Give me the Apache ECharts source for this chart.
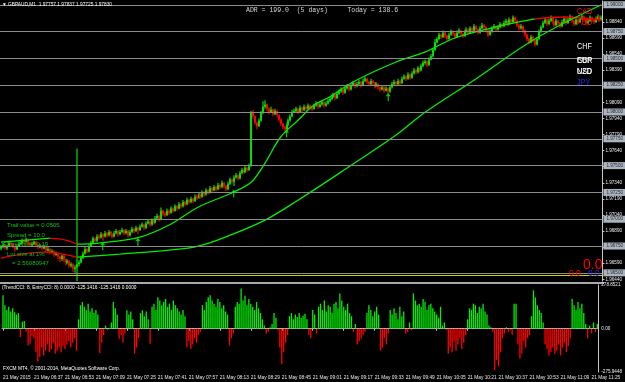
<!DOCTYPE html>
<html>
<head>
<meta charset="utf-8">
<script src="https://cdn.jsdelivr.net/npm/echarts@6/dist/echarts.min.js"></script>
<style>
html, body { margin: 0; padding: 0; background: #000; }
#chart { width: 625px; height: 382px; }
</style>
</head>
<body>
<div id="chart"></div>
<script>
// GBPAUD M1, prices kept as pips above BASE_PRICE
let BASE_PRICE = 1.96;
let firstOpen = 73;

let closes = [
  74,76,73,75,78,77,74,72,75,77, 78,80,79,81,78,76,77,79,76,74,
  75,73,74,71,72,69,70,67,68,65, 63,66,62,60,61,57,58,54,55,58,
  60,64,68,72,70,75,78,82,80,84, 83,86,84,87,85,88,86,84,87,89,
  86,88,90,87,89,85,88,91,89,92, 90,93,95,92,96,98,95,99,97,101,
  103,100,108,105,104,108,106,110,108,112, 110,114,112,116,114,118,116,119,117,121,
  120,123,121,125,123,127,125,129,127,130, 128,132,130,134,131,128,133,137,135,139,
  141,138,143,146,144,148,146,150,200,196, 190,187,192,199,205,207,203,200,202,198,
  201,197,193,189,186,184,188,192,196,200, 201,203,200,204,202,205,203,206,204,203,
  206,208,205,207,209,206,208,210,212,214, 216,213,217,219,221,218,222,224,221,225,
  227,224,226,228,225,229,231,228,226,229, 227,224,226,223,221,223,220,222,219,223,
  226,228,226,229,227,231,233,231,235,232, 236,239,237,241,239,243,246,247,244,249,
  252,258,265,268,272,270,274,271,268,272, 275,273,270,274,276,273,271,275,277,274,
  278,276,280,277,274,278,281,279,276,272, 275,278,280,277,279,282,280,283,285,282,
  286,284,288,285,281,278,280,276,272,268, 265,270,267,263,268,275,279,283,286,282,
  285,288,284,281,285,283,280,284,287,283, 286,289,285,282,286,284,287,289,286,283,
  285,288,286,284,287,289,286,288
];
let highs = [
  76,78,77,76,80,79,78,75,76,79, 80,82,81,83,82,79,79,80,80,77,
  77,76,76,75,74,73,72,71,70,69, 66,67,67,63,63,62,60,59,57,166,
  62,66,70,74,73,77,80,84,83,86, 86,88,87,89,88,90,89,87,89,91,
  90,90,92,91,91,90,90,93,92,94, 93,95,97,96,98,100,99,101,100,103,
  105,104,111,109,107,110,109,112,111,114, 113,116,115,118,117,120,119,121,120,123,
  123,125,124,127,126,129,128,131,130,132, 131,134,133,136,135,132,135,139,138,141,
  143,142,145,148,147,150,149,152,201,202, 197,191,194,201,210,211,208,204,205,203,
  203,202,198,194,190,187,190,194,198,202, 203,205,204,206,205,207,206,208,207,206,
  208,210,209,209,211,210,210,212,214,216, 218,217,219,221,223,222,224,226,225,227,
  229,228,228,230,229,231,233,232,229,231, 230,228,228,227,224,225,224,224,223,225,
  228,230,229,231,230,233,235,234,237,236, 238,241,240,243,242,245,248,249,248,251,
  254,260,268,270,274,273,276,275,272,274, 277,276,274,276,278,277,274,277,279,278,
  280,279,282,281,278,280,283,282,280,277, 277,280,282,281,281,284,283,285,287,286,
  288,287,290,289,286,282,282,281,277,273, 269,272,271,268,270,277,281,285,288,287,
  287,290,289,285,287,286,284,286,289,288, 288,291,290,286,288,287,289,291,290,287,
  287,290,289,287,289,291,290,290
];
let lows = [
  71,73,72,71,74,75,73,70,71,74, 76,77,77,78,76,74,75,76,74,72,
  73,71,72,69,70,67,68,65,66,63, 60,61,60,57,58,55,55,51,50,40,
  56,59,63,67,68,69,74,77,78,79, 81,82,80,83,83,84,84,82,83,86,
  84,85,87,85,86,83,84,87,87,88, 86,89,92,90,91,95,93,94,95,96,
  100,98,99,103,102,103,104,105,106,107, 108,109,110,111,112,113,114,115,115,116,
  118,119,119,120,121,122,123,124,125,126, 126,127,128,129,129,126,127,132,133,131,
  138,136,137,142,142,143,144,145,149,194, 188,184,186,191,198,203,201,198,199,196,
  197,195,191,187,184,182,182,187,191,195, 199,200,198,199,200,201,201,202,202,201,
  202,205,203,204,206,204,205,207,209,211, 213,211,212,216,218,216,217,221,219,220,
  224,222,223,225,223,224,228,226,224,225, 225,222,223,221,219,220,218,219,217,218,
  222,225,224,225,225,226,230,229,230,230, 231,235,235,236,237,238,242,244,242,243,
  248,251,257,264,267,268,269,269,266,267, 271,271,268,269,273,271,269,270,274,272,
  273,274,275,275,272,273,277,277,274,270, 271,274,277,275,276,278,278,279,282,280,
  281,282,283,283,279,276,277,274,270,266, 263,264,265,261,262,267,274,278,282,280,
  281,284,282,279,280,281,278,279,283,281, 282,285,283,280,281,282,283,286,284,281,
  282,284,284,282,283,286,284,285
];

// TrendCCI histogram
let cciValues = [
  214,150,120,140,110,130,105,90,100,-53, 45,50,-20,-107,-95,-40,-60,-150,-210,-180,
  -120,-170,-140,-100,-150,-130,-90,-160,-140,-120, -150,-110,-130,-100,-80,-120,-90,-60,-140,60,
  150,170,140,120,160,110,130,100,120,90, -156,-90,-40,20,-10,5,40,171,130,90,
  -64,-40,-90,-30,118,90,110,60,-160,-120, -60,100,118,80,110,60,-96,140,160,120,
  200,180,150,170,190,140,160,120,180,150, 130,110,90,120,80,-120,-80,-130,-100,-60,
  -90,-40,-20,150,120,170,200,214,180,160, 140,190,170,130,150,110,90,-107,-60,-30,
  140,170,160,257,180,210,150,190,160,140, 120,170,130,100,60,20,-30,-20,10,30,
  100,70,-10,-120,-225,-150,-90,-40,80,100, 60,90,75,100,70,85,95,60,-40,-60,
  120,90,-30,140,160,120,180,110,150,140, 100,160,170,130,225,180,140,120,160,100,
  80,-20,30,-100,-80,-60,-40,-20,100,150, 120,80,110,140,90,-140,-120,-60,-100,-30,
  120,90,130,100,60,140,80,110,-30,-20, 40,-10,225,180,150,160,140,190,170,120,
  150,160,130,110,90,70,140,20,40,-10, -160,-120,-150,-80,-140,-100,-60,-130,-90,-40,
  60,130,120,160,150,100,140,130,160,110, 90,20,10,-20,-263,-200,-240,-150,-60,-30,
  10,-20,-10,-40,160,160,-100,-190,-160,-80, -120,-60,-40,80,245,200,150,120,100,40,
  -100,-130,-170,-150,-120,-160,-140,-100,-170,-120, -90,-150,-110,-60,190,150,120,170,130,160,
  100,30,-60,20,-30,40,-20,30
];

// moving averages, [bar index, pips] key points, split by colour
let fastMaGreen1 = [[0,78.7],[13,80.6],[25,82.4]];
let fastMaRed1 = [[25,82.4],[33,80.6],[39,76.8]];
let fastMaGreen2 = [[39,76.8],[50,77.8],[71,83.4],[86,94.6],[101,111.4],[119,125.4],[128,134.7],[135,152.4],
  [143,176.7],[152,192.5],[160,206.5],[168,214],[180,228],[202,246.6],[217,256],[232,269],[253,279.3],[273,286.8]];
let fastMaRed2 = [[273,286.8],[288,288.6],[307,285.8]];
let slowMaRed = [[0,63.8],[22,69.4],[39,64.7]];
let slowMaGreen = [[39,64.7],[61,67.5],[86,71.2],[101,75],[116,84.3],[135,99.2],[152,117.9],[177,147.8],
  [202,178.5],[217,200],[242,229.9],[273,268.1],[307,300]];

let signalArrows = [[52,75],[70,79],[119,124],[146,180],[198,214]];

let levelLines = [1.99000,1.98750,1.98500,1.98250,1.98000,1.97750,1.97500,1.97250,1.97000,1.96750,1.96500];
let priceTicks = [1.96440,1.96590,1.96740,1.96890,1.97040,1.97190,1.97340,1.97490,1.97640,1.97790,
  1.97940,1.98090,1.98240,1.98390,1.98540,1.98690,1.98840];
let bidPrice = 1.97830;
let yellowLine = 1.96480;
let cciTicks = [278.8521, 0, -275.9448];

let timeLabels = ['21 May 2015','21 May 06:37','21 May 06:53','21 May 07:09','21 May 07:25','21 May 07:41',
  '21 May 07:57','21 May 08:13','21 May 08:29','21 May 08:45','21 May 09:01','21 May 09:17','21 May 09:33',
  '21 May 09:49','21 May 10:05','21 May 10:21','21 May 10:37','21 May 10:53','21 May 11:09','21 May 11:25'];

let toPrice = p => (BASE_PRICE + p / 10000).toFixed(5);
let toPips = price => Math.round((price - BASE_PRICE) * 100000) / 10;

// [index, open, close, low, high]; an M1 bar opens at the previous close
let candles = closes.map((c, i) => [i, i ? closes[i - 1] : firstOpen, c, lows[i], highs[i]]);
let categories = closes.map((c, i) => i);

let bullColor = '#00e000';
let bearColor = '#ff0000';

let smallFont = '"Liberation Sans", "DejaVu Sans", sans-serif';
let textItem = (x, y, text, fill, size, family, scaleX) => ({
  type: 'text', x: x, y: y, scaleX: scaleX || 1, silent: true, z: 50,
  style: { text: text, fill: fill, fontSize: size, fontFamily: family || smallFont, verticalAlign: 'middle' }
});

let maLine = (points, color) => ({
  type: 'line', xAxisIndex: 0, yAxisIndex: 0, data: points, smooth: 0.35, symbol: 'none',
  lineStyle: { color: color, width: 1.3 }, z: 4, silent: true
});

// MT4 style candle: wick plus a 2px body
let renderCandle = (params, api) => {
  let idx = api.value(0);
  let open = api.value(1), close = api.value(2);
  let pOpen = api.coord([idx, open]);
  let pClose = api.coord([idx, close]);
  let pLow = api.coord([idx, api.value(3)]);
  let pHigh = api.coord([idx, api.value(4)]);
  let color = close >= open ? bullColor : bearColor;
  let cx = Math.round(pOpen[0]);
  let top = Math.min(pOpen[1], pClose[1]);
  let h = Math.max(1.5, Math.abs(pOpen[1] - pClose[1]));
  return {
    type: 'group',
    children: [
      { type: 'line', shape: { x1: cx, y1: pHigh[1], x2: cx, y2: pLow[1] }, style: { stroke: color, lineWidth: 1.2 } },
      { type: 'rect', shape: { x: cx - 1, y: top, width: 2, height: h }, style: { fill: color } }
    ]
  };
};

let chart = echarts.init(document.getElementById('chart'));

let option = {
  backgroundColor: '#000',
  animation: false,
  grid: [
    { left: 0, top: 1, width: 604, height: 280 },
    { left: 0, top: 285, width: 604, height: 87 }
  ],
  xAxis: [
    { type: 'category', gridIndex: 0, data: categories, boundaryGap: true,
      axisLine: { show: false }, axisTick: { show: false }, axisLabel: { show: false } },
    { type: 'category', gridIndex: 1, data: categories, boundaryGap: true,
      axisLine: { show: true, lineStyle: { color: '#c8c8c8', width: 1 } },
      axisTick: { show: true, interval: 15, alignWithLabel: true, length: 2, lineStyle: { color: '#c8c8c8' } },
      axisLabel: { interval: 15, align: 'left', margin: 3, fontSize: 4.8, color: '#e8e8e8', fontFamily: smallFont,
        formatter: (v, idx) => timeLabels[idx / 16] || '' } }
  ],
  yAxis: [
    { type: 'value', gridIndex: 0, position: 'right', min: 42.4, max: 303.5, splitLine: { show: false },
      axisLine: { show: true, lineStyle: { color: '#c8c8c8' } },
      axisTick: { show: true, length: 2, customValues: priceTicks.map(toPips), lineStyle: { color: '#c8c8c8' } },
      axisLabel: { customValues: priceTicks.map(toPips), formatter: v => toPrice(v), color: '#f0f0f0',
        fontSize: 4.6, margin: 3, fontFamily: smallFont } },
    { type: 'value', gridIndex: 1, position: 'right', min: -275.9448, max: 278.8521, splitLine: { show: false },
      axisLine: { show: true, lineStyle: { color: '#c8c8c8' } },
      axisTick: { show: false },
      axisLabel: { customValues: cciTicks, formatter: v => v === 0 ? '0.00' : v.toFixed(4), color: '#f0f0f0',
        fontSize: 4.6, margin: 3, fontFamily: smallFont } }
  ],
  series: [
    {
      type: 'custom', xAxisIndex: 0, yAxisIndex: 0, data: candles, renderItem: renderCandle,
      encode: { x: 0, y: [1, 2, 3, 4] }, clip: true, z: 3, silent: true,
      markLine: {
        symbol: 'none', silent: true, animation: false,
        lineStyle: { color: '#8c8c8c', width: 1, type: 'solid' },
        label: { position: 'end', distance: 1, fontSize: 4.6, color: '#2a2a2a', backgroundColor: '#a9b4bf',
          padding: [1, 3], fontFamily: smallFont },
        data: levelLines.map(v => ({ yAxis: toPips(v), label: { formatter: v.toFixed(5) } }))
          .concat([
            { yAxis: toPips(yellowLine), lineStyle: { color: '#d2d200', width: 1 }, label: { show: false } },
            { yAxis: toPips(bidPrice), lineStyle: { opacity: 0 },
              label: { formatter: bidPrice.toFixed(5), backgroundColor: '#ffffff', color: '#000' } }
          ])
      }
    },
    maLine(fastMaGreen1, '#00ee00'),
    maLine(fastMaRed1, '#ee0000'),
    maLine(fastMaGreen2, '#00ee00'),
    maLine(fastMaRed2, '#ee0000'),
    maLine(slowMaRed, '#ee0000'),
    maLine(slowMaGreen, '#00ee00'),
    {
      type: 'scatter', xAxisIndex: 0, yAxisIndex: 0, data: signalArrows, z: 5, silent: true,
      symbol: 'path://M5,0 L10,5 L6.2,5 L6.2,12 L3.8,12 L3.8,5 L0,5 Z', symbolSize: [5, 8],
      itemStyle: { color: '#00ff00' }
    },
    {
      type: 'bar', xAxisIndex: 1, yAxisIndex: 1, data: cciValues, barWidth: 1.3, silent: true,
      itemStyle: { color: p => p.value >= 0 ? '#00f000' : '#ff0000' },
      markLine: {
        symbol: 'none', silent: true, label: { show: false },
        lineStyle: { color: '#9a9a9a', type: [1, 2], width: 1 },
        data: [{ yAxis: 0 }]
      }
    }
  ],
  graphic: [
    { type: 'rect', shape: { x: 0, y: 282, width: 604, height: 2 }, style: { fill: '#a8a8a8' }, silent: true },
    textItem(2, 5, '\u25BC GBPAUD,M1  1.97757 1.97837 1.97725 1.97830', '#ffffff', 4.8),
    textItem(246, 10, 'ADR = 199.0  (5 days)     Today = 138.6', '#d8d8d8', 6.5, '"Liberation Mono", "DejaVu Sans Mono", monospace'),
    textItem(577, 11.5, 'CAD', '#ff1010', 9, null, 0.8),
    textItem(577, 22.5, 'AUD', '#ff1010', 9, null, 0.8),
    textItem(577, 47, 'CHF', '#ffffff', 9, null, 0.8),
    textItem(577, 60.5, 'EUR', '#ffffff', 9, null, 0.8),
    textItem(577, 60.5, 'GBP', '#ffffff', 9, null, 0.8),
    textItem(577, 71.5, 'NZD', '#ffffff', 9, null, 0.8),
    textItem(577, 71.5, 'USD', '#ffffff', 9, null, 0.8),
    textItem(577, 83, 'JPY', '#2020ff', 9, null, 0.8),
    textItem(583, 265, '0.0', '#ff0000', 14),
    textItem(569, 274, '0.0', '#ff0000', 8.5),
    textItem(588, 274, '0.0', '#2020ff', 8.5),
    textItem(7, 225, 'Trail value = 0.0505', '#10c010', 6),
    textItem(7, 235, 'Spread = 10.0', '#10c010', 6),
    textItem(3, 244.5, '\u00A31 per pip = 0.19', '#10c010', 6),
    textItem(7, 254.5, 'Lot size at 1%', '#10c010', 6),
    textItem(12, 263.5, '= 2.56080947', '#10c010', 6),
    textItem(2, 287.5, '(TrendCCI: 8, EntryCCI: 8) 0.0000 -125.1416 -125.1416 0.0000', '#ffffff', 4.8),
    textItem(3, 368.5, 'FXCM MT4, \u00A9 2001-2014, MetaQuotes Software Corp.', '#ffffff', 4.8)
  ]
};

chart.setOption(option);
</script>
</body>
</html>
